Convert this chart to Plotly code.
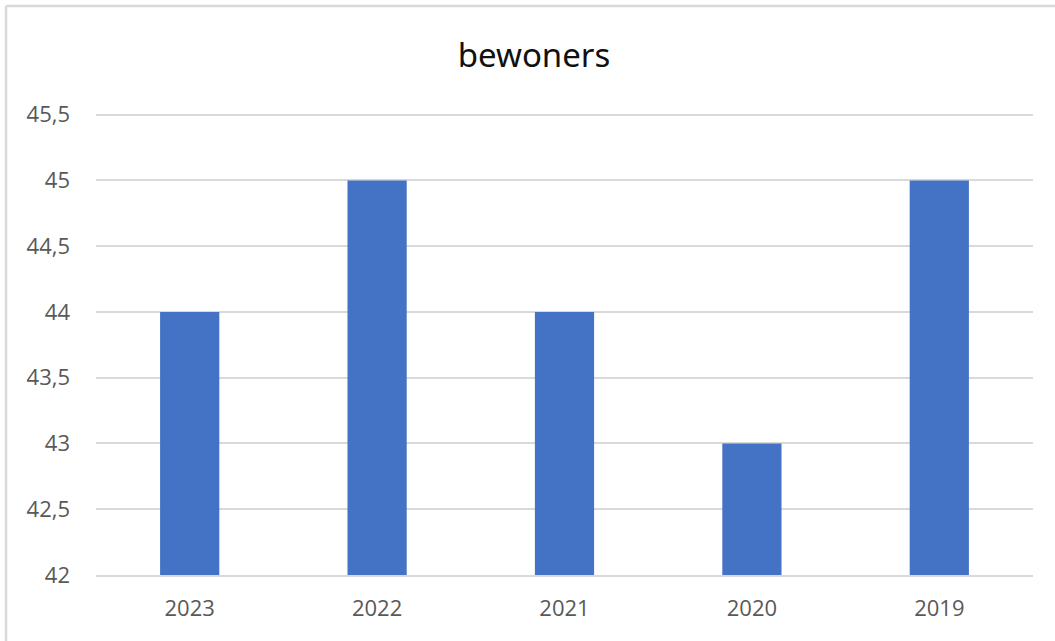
import plotly.graph_objects as go

years = ["2023", "2022", "2021", "2020", "2019"]
bewoners = [44, 45, 44, 43, 45]
title_text = "bewoners"

W, H = 1055, 641
L, R, T, B = 96, 22, 112, 66
PW, PH = W - L - R, H - T - B

fig = go.Figure(
    go.Bar(
        x=years,
        y=bewoners,
        marker=dict(color="#4472C4", line=dict(width=0)),
        width=0.316,
    )
)

tick_font = dict(family="Open Sans, Noto Sans, sans-serif", size=22, color="#595959")
border_x = (6 - L) / PW
border_y = 1 + (T - 6) / PH

fig.update_layout(
    width=W,
    height=H,
    paper_bgcolor="white",
    plot_bgcolor="white",
    separators=",.",
    margin=dict(l=L, r=R, t=T, b=B),
    showlegend=False,
    title=dict(
        text=title_text,
        x=534 / W,
        xanchor="center",
        xref="container",
        y=1 - 55 / H,
        yref="container",
        yanchor="middle",
        font=dict(family="Noto Sans, sans-serif", size=33, color="#111111"),
    ),
    xaxis=dict(
        type="category",
        showgrid=False,
        showline=True,
        linecolor="#d9d9d9",
        linewidth=2,
        ticks="",
        ticklabelstandoff=13,
        tickfont=tick_font,
    ),
    yaxis=dict(
        range=[42, 45.52],
        tickvals=[42, 42.5, 43, 43.5, 44, 44.5, 45, 45.5],
        showgrid=True,
        gridcolor="#d9d9d9",
        gridwidth=2,
        zeroline=False,
        showline=False,
        ticks="",
        ticklabelstandoff=25,
        tickfont=tick_font,
    ),
    shapes=[
        dict(type="line", xref="paper", yref="paper",
             x0=border_x, x1=1.2, y0=border_y, y1=border_y,
             line=dict(color="#d9d9d9", width=2.5)),
        dict(type="line", xref="paper", yref="paper",
             x0=border_x, x1=border_x, y0=border_y, y1=-0.3,
             line=dict(color="#d9d9d9", width=2.5)),
    ],
)

fig.write_html("out.html", config={"displayModeBar": False},
               post_script="document.body.style.margin='0';")
